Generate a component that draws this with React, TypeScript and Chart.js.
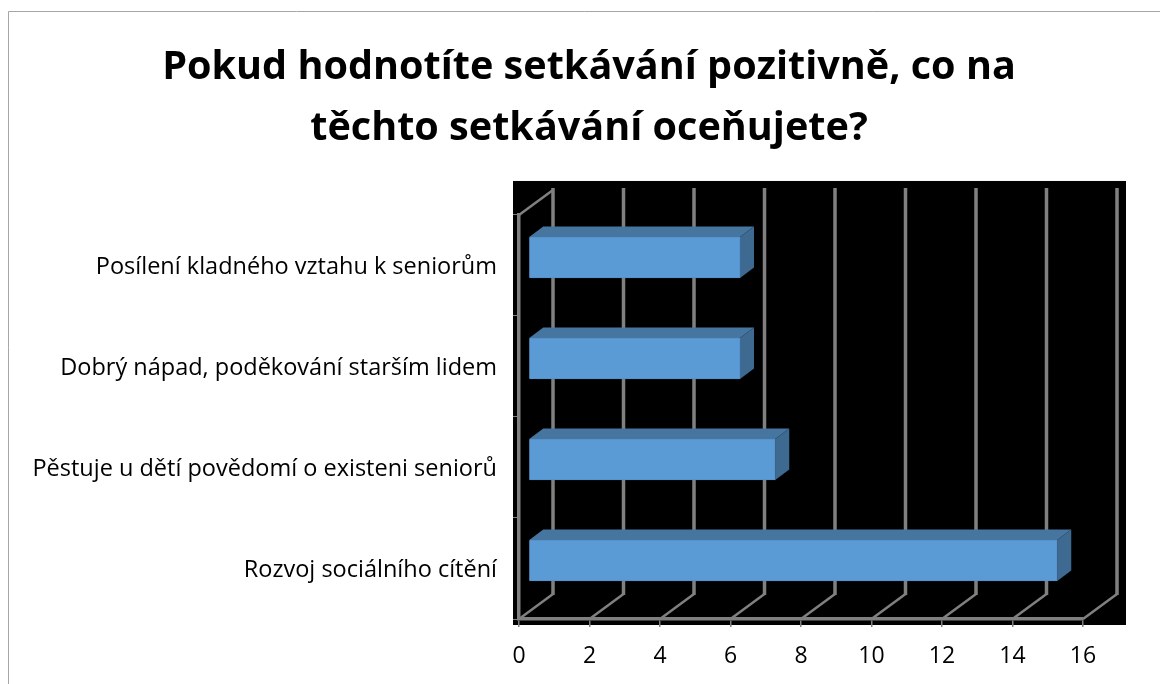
import React, { useEffect, useRef } from "react";
import { Chart, registerables } from "chart.js";

Chart.register(...registerables);

const categories = [
  "Posílení kladného vztahu k seniorům",
  "Dobrý nápad, poděkování starším lidem",
  "Pěstuje u dětí povědomí o existeni seniorů",
  "Rozvoj sociálního cítění",
];
const values = [6, 6, 7, 15];
const titleLines = ["Pokud hodnotíte setkávání pozitivně, co na", "těchto setkávání oceňujete?"];

const FONT = "'Open Sans', sans-serif";
const GREY = "#808080";
const WALL_DX = 34;
const WALL_DY = -25;
const BAR_SHIFT_X = 9.5;
const BAR_SHIFT_Y = -8;
const BAR_DX = 14;
const BAR_DY = -10.5;

const scene3d = {
  id: "scene3d",
  afterLayout(chart: any) {
    chart.titleBlock.left = 18;
    chart.titleBlock.right = 1160;
  },
  beforeDraw(chart: any) {
    const { ctx, chartArea: a } = chart;
    ctx.save();
    ctx.fillStyle = "#ffffff";
    ctx.fillRect(0, 0, chart.width, chart.height);
    ctx.strokeStyle = "#a6a6a6";
    ctx.lineWidth = 1;
    ctx.beginPath();
    ctx.moveTo(8.5, chart.height);
    ctx.lineTo(8.5, 11.5);
    ctx.lineTo(chart.width, 11.5);
    ctx.stroke();
    ctx.fillStyle = "#000000";
    ctx.fillRect(a.left - 6, a.top - 34, a.right - a.left + 49, a.bottom - a.top + 40);
    ctx.restore();
  },
  beforeDatasetsDraw(chart: any) {
    const { ctx, chartArea: a, scales } = chart;
    const x = scales.x;
    ctx.save();
    ctx.strokeStyle = GREY;
    ctx.lineCap = "butt";
    x.ticks.forEach((t: any) => {
      const px = x.getPixelForValue(t.value);
      ctx.lineWidth = 2.5;
      ctx.beginPath();
      ctx.moveTo(px, a.bottom);
      ctx.lineTo(px + WALL_DX, a.bottom + WALL_DY);
      ctx.stroke();
      ctx.lineWidth = 3.5;
      ctx.beginPath();
      ctx.moveTo(px + WALL_DX, a.bottom + WALL_DY + 1);
      ctx.lineTo(px + WALL_DX, a.top + WALL_DY - 2);
      ctx.stroke();
    });
    ctx.lineWidth = 2.5;
    ctx.beginPath();
    ctx.moveTo(a.left, a.top);
    ctx.lineTo(a.left + WALL_DX, a.top + WALL_DY);
    ctx.stroke();
    chart.getDatasetMeta(0).data.forEach((bar: any) => {
      const p = bar.getProps(["x", "y", "base", "height"], true);
      const l = p.base + BAR_SHIFT_X;
      const r = p.x + BAR_SHIFT_X;
      const t = p.y - p.height / 2 + BAR_SHIFT_Y;
      const b = p.y + p.height / 2 + BAR_SHIFT_Y;
      ctx.fillStyle = "#46759F";
      ctx.beginPath();
      ctx.moveTo(l, t);
      ctx.lineTo(l + BAR_DX, t + BAR_DY);
      ctx.lineTo(r + BAR_DX, t + BAR_DY);
      ctx.lineTo(r, t);
      ctx.closePath();
      ctx.fill();
      ctx.fillStyle = "#3E6A92";
      ctx.beginPath();
      ctx.moveTo(r, t);
      ctx.lineTo(r + BAR_DX, t + BAR_DY);
      ctx.lineTo(r + BAR_DX, b + BAR_DY);
      ctx.lineTo(r, b);
      ctx.closePath();
      ctx.fill();
    });
    ctx.restore();
  },
  beforeDatasetDraw(chart: any) {
    chart.ctx.save();
    chart.ctx.translate(BAR_SHIFT_X, BAR_SHIFT_Y);
  },
  afterDatasetDraw(chart: any) {
    chart.ctx.restore();
  },
};

export default function App() {
  const ref = useRef<HTMLCanvasElement | null>(null);
  useEffect(() => {
    const chart = new Chart(ref.current as HTMLCanvasElement, {
      type: "bar",
      data: {
        labels: categories,
        datasets: [
          {
            data: values,
            backgroundColor: "#5B9BD5",
            borderColor: "#5590C8",
            borderWidth: 1,
            barThickness: 41,
          },
        ],
      },
      options: {
        indexAxis: "y",
        animation: false,
        responsive: false,
        layout: { padding: { left: 0, right: 77, top: 0, bottom: 0 } },
        plugins: {
          legend: { display: false },
          tooltip: { enabled: false },
          title: {
            display: true,
            text: titleLines,
            color: "#000000",
            font: { family: FONT, size: 39.6, weight: "bold", lineHeight: 1.54 },
            padding: { top: 37, bottom: 56 },
          },
        },
        scales: {
          x: {
            min: 0,
            max: 16,
            ticks: {
              stepSize: 2,
              color: "#000000",
              padding: 16,
              maxRotation: 0,
              minRotation: 0,
              font: { family: FONT, size: 23 },
            },
            grid: { drawOnChartArea: false, drawTicks: true, tickLength: 8, color: GREY, lineWidth: 1.5 },
            border: { display: true, color: GREY, width: 3.5 },
            afterFit: (s: any) => {
              s.height = 65;
            },
          },
          y: {
            ticks: {
              color: "#000000",
              padding: 16,
              labelOffset: 2,
              autoSkip: false,
              maxRotation: 0,
              minRotation: 0,
              font: { family: FONT, size: 23.5 },
            },
            grid: { drawOnChartArea: false, drawTicks: true, tickLength: 6, color: GREY, lineWidth: 1 },
            border: { display: true, color: GREY, width: 3.5 },
            afterFit: (s: any) => {
              s.width = 519;
            },
          },
        },
      } as any,
      plugins: [scene3d as any],
    });
    return () => chart.destroy();
  }, []);
  return (
    <canvas
      ref={ref}
      width={1160}
      height={684}
      style={{ position: "absolute", left: 0, top: 0, width: 1160, height: 684 }}
    />
  );
}
